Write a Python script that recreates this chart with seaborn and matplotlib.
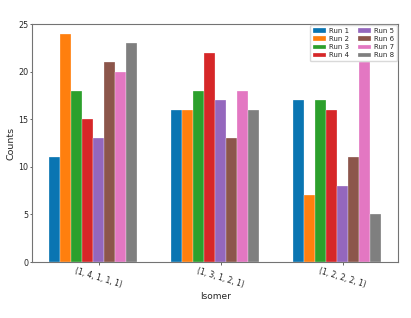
import matplotlib
matplotlib.use("Agg")
import matplotlib.pyplot as plt
import seaborn as sns
import numpy as np
import pandas as pd

isomers = ["(1, 4, 1, 1, 1)", "(1, 3, 1, 2, 1)", "(1, 2, 2, 2, 1)"]
runs = ["Run 1", "Run 2", "Run 3", "Run 4", "Run 5", "Run 6", "Run 7", "Run 8"]
run1 = [11, 16, 17]
run2 = [24, 16, 7]
run3 = [18, 18, 17]
run4 = [15, 22, 16]
run5 = [13, 17, 8]
run6 = [21, 13, 11]
run7 = [20, 18, 21]
run8 = [23, 16, 5]
series = [run1, run2, run3, run4, run5, run6, run7, run8]
yticks = [0, 5, 10, 15, 20, 25]

colors = ["#0a75b2", "#ff7f0e", "#2ca02c", "#d62728",
          "#9467bd", "#8c564b", "#e377c2", "#7f7f7f"]

rows = []
for r, vals in zip(runs, series):
    for iso, v in zip(isomers, vals):
        rows.append({"Isomer": iso, "Counts": v, "Run": r})
df = pd.DataFrame(rows)

sns.set_style("white")
plt.rcParams['font.family'] = ['DejaVu Sans']

fig = plt.figure(figsize=(4.11, 3.18), dpi=100)
ax = fig.add_axes([0.078, 0.176, 0.891, 0.748])

sns.barplot(data=df, x="Isomer", y="Counts", hue="Run", order=isomers,
            hue_order=runs, palette=colors, saturation=1, width=0.72,
            edgecolor="white", linewidth=0.2, ax=ax)

ax.set_xlim(-0.5, 2.5)
ax.set_ylim(0, 25)
ax.set_yticks(yticks)
ax.set_yticklabels([str(t) for t in yticks], fontsize=5.8)
bar_w = 0.72 / len(runs)
ax.set_xticks(np.arange(len(isomers)) + bar_w / 2)
ax.set_xticklabels(isomers, rotation=-17, ha="center", fontsize=5.5)
ax.tick_params(axis="both", length=1.8, width=0.6, color="0.3",
               bottom=True, left=True)
ax.tick_params(axis="y", pad=0.8)
ax.tick_params(axis="x", pad=1.5)
ax.set_xlabel("Isomer", fontsize=6.5, labelpad=2)
ax.set_ylabel("Counts", fontsize=6.8, labelpad=2)
for s in ax.spines.values():
    s.set_color("0.45")
    s.set_linewidth(0.8)

ax.legend(loc="upper right", ncol=2, fontsize=5, handlelength=1.9,
          handleheight=0.6, handletextpad=0.45, columnspacing=1.3,
          labelspacing=0.3, frameon=True, framealpha=1, edgecolor="0.85",
          title=None, borderaxespad=0.15)

fig.savefig("out.png", dpi=100)
